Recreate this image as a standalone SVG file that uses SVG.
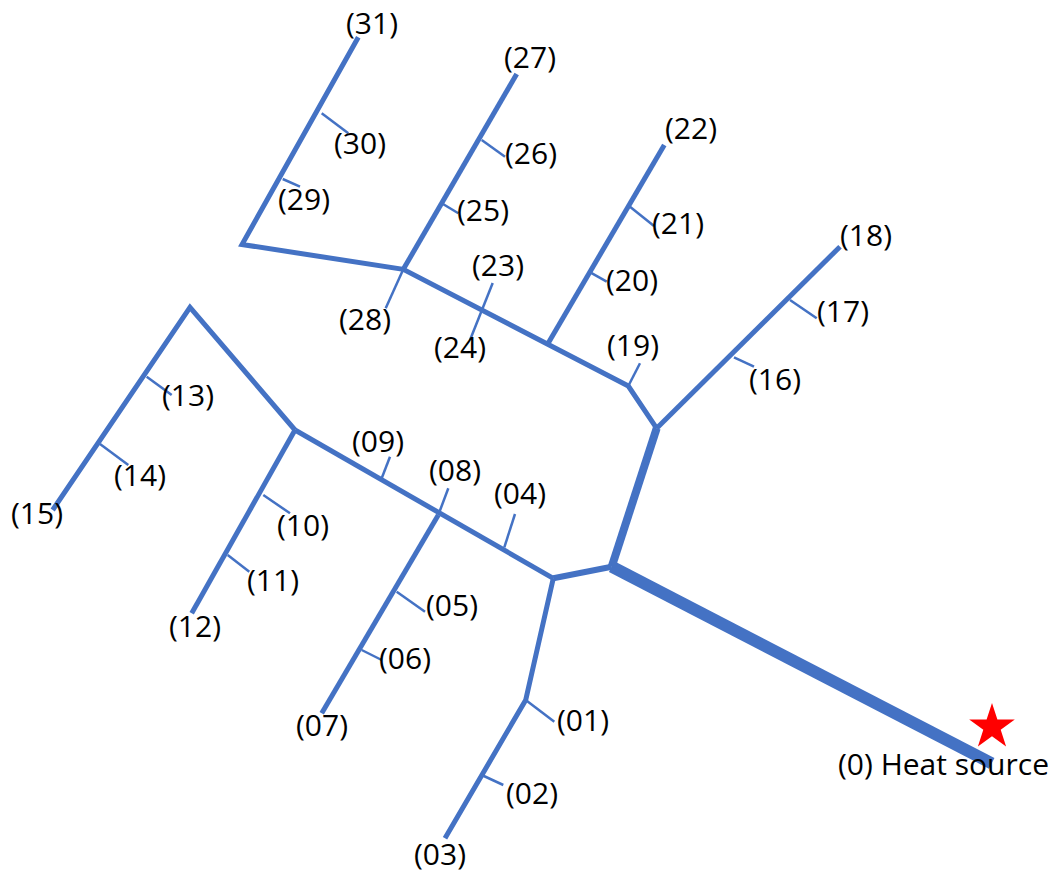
<svg xmlns="http://www.w3.org/2000/svg" width="1052" height="874" viewBox="0 0 1052 874">
<style>
.p{fill:none;stroke:#4472C4;stroke-linejoin:miter;stroke-linecap:butt}
.w5{stroke-width:5}
.t{stroke-width:2.5}
.lbl{font-family:"Open Sans","Liberation Sans",sans-serif;font-size:30px;fill:#000}
</style>
<rect width="1052" height="874" fill="#fff"/>
<g id="connectors">
<line class="p" stroke-width="12" x1="991.7" y1="763.3" x2="611.7" y2="566.7"/>
<line class="p" stroke-width="8" x1="611.7" y1="566.7" x2="656.7" y2="428.3"/>
<line class="p" stroke-width="6" x1="611.7" y1="566.7" x2="553.3" y2="578.3"/>
<polyline class="p w5" points="553.3,578.3 525.7,700 445,838.3"/>
<line class="p w5" x1="553.3" y1="578.3" x2="295" y2="430"/>
<line class="p w5" x1="438.3" y1="515" x2="321.7" y2="713.3"/>
<polyline class="p w5" points="52.7,510 190,307.3 295,430"/>
<line class="p w5" x1="295" y1="430" x2="191.7" y2="613.3"/>
<line class="p w5" x1="656.7" y1="428.3" x2="840" y2="246.7"/>
<polyline class="p w5" points="656.7,428.3 628.3,386 403.3,269.3 242,244.5 358.3,37.3"/>
<line class="p w5" x1="548.3" y1="343" x2="664.3" y2="145"/>
<line class="p w5" x1="403.3" y1="269.3" x2="516.7" y2="74"/>
<line class="p t" x1="525.7" y1="700" x2="554.3" y2="721.7"/>
<line class="p t" x1="481.7" y1="775" x2="503.3" y2="785"/>
<line class="p t" x1="504.3" y1="547.3" x2="515" y2="514"/>
<line class="p t" x1="438.3" y1="515" x2="448.3" y2="488.3"/>
<line class="p t" x1="381.7" y1="478.3" x2="390" y2="456.7"/>
<line class="p t" x1="396.7" y1="591.7" x2="425" y2="611.7"/>
<line class="p t" x1="361.7" y1="650" x2="381.7" y2="660"/>
<line class="p t" x1="263.3" y1="495" x2="290" y2="513.3"/>
<line class="p t" x1="227.7" y1="555" x2="249.3" y2="571.7"/>
<line class="p t" x1="146.7" y1="376.7" x2="171.7" y2="395"/>
<line class="p t" x1="100" y1="444" x2="128.3" y2="465"/>
<line class="p t" x1="403.3" y1="269.3" x2="385.7" y2="308.3"/>
<line class="p t" x1="492.7" y1="283" x2="470" y2="340"/>
<line class="p t" x1="640" y1="363.3" x2="628.3" y2="386"/>
<line class="p t" x1="590.7" y1="272.7" x2="606.7" y2="281.7"/>
<line class="p t" x1="630" y1="206.7" x2="654" y2="226"/>
<line class="p t" x1="734" y1="357.3" x2="754" y2="366.7"/>
<line class="p t" x1="790" y1="300" x2="816.7" y2="318.3"/>
<line class="p t" x1="441.7" y1="203.3" x2="458.3" y2="213.3"/>
<line class="p t" x1="481.7" y1="140" x2="505" y2="156.7"/>
<line class="p t" x1="282.7" y1="179" x2="300" y2="186.7"/>
<line class="p t" x1="321.7" y1="113.3" x2="348.3" y2="133.3"/>
</g>
<g id="n0">
<polygon fill="#FF0000" points="992,703 997.4,719.6 1014.8,719.6 1000.7,729.8 1006.1,746.4 992,736.2 977.9,746.4 983.3,729.8 969.2,719.6 986.6,719.6"/>
<text class="lbl" x="838" y="775">(0) Heat source</text>
</g>
<g id="n01"><text class="lbl" x="557" y="731">(01)</text></g>
<g id="n02"><text class="lbl" x="506" y="804">(02)</text></g>
<g id="n03"><text class="lbl" x="414" y="865">(03)</text></g>
<g id="n04"><text class="lbl" x="494" y="504">(04)</text></g>
<g id="n05"><text class="lbl" x="426" y="616">(05)</text></g>
<g id="n06"><text class="lbl" x="379" y="669">(06)</text></g>
<g id="n07"><text class="lbl" x="296" y="736">(07)</text></g>
<g id="n08"><text class="lbl" x="429" y="481">(08)</text></g>
<g id="n09"><text class="lbl" x="352" y="452">(09)</text></g>
<g id="n10"><text class="lbl" x="277" y="536">(10)</text></g>
<g id="n11"><text class="lbl" x="247" y="591">(11)</text></g>
<g id="n12"><text class="lbl" x="169" y="637">(12)</text></g>
<g id="n13"><text class="lbl" x="162" y="406">(13)</text></g>
<g id="n14"><text class="lbl" x="114" y="486">(14)</text></g>
<g id="n15"><text class="lbl" x="11" y="524">(15)</text></g>
<g id="n16"><text class="lbl" x="749" y="390">(16)</text></g>
<g id="n17"><text class="lbl" x="817" y="322">(17)</text></g>
<g id="n18"><text class="lbl" x="840" y="246">(18)</text></g>
<g id="n19"><text class="lbl" x="607" y="356">(19)</text></g>
<g id="n20"><text class="lbl" x="606" y="291">(20)</text></g>
<g id="n21"><text class="lbl" x="652" y="234">(21)</text></g>
<g id="n22"><text class="lbl" x="665" y="139">(22)</text></g>
<g id="n23"><text class="lbl" x="472" y="276">(23)</text></g>
<g id="n24"><text class="lbl" x="434" y="358">(24)</text></g>
<g id="n25"><text class="lbl" x="457" y="221">(25)</text></g>
<g id="n26"><text class="lbl" x="505" y="164">(26)</text></g>
<g id="n27"><text class="lbl" x="504" y="68">(27)</text></g>
<g id="n28"><text class="lbl" x="339" y="330">(28)</text></g>
<g id="n29"><text class="lbl" x="278" y="210">(29)</text></g>
<g id="n30"><text class="lbl" x="334" y="154">(30)</text></g>
<g id="n31"><text class="lbl" x="346" y="34">(31)</text></g>
</svg>
